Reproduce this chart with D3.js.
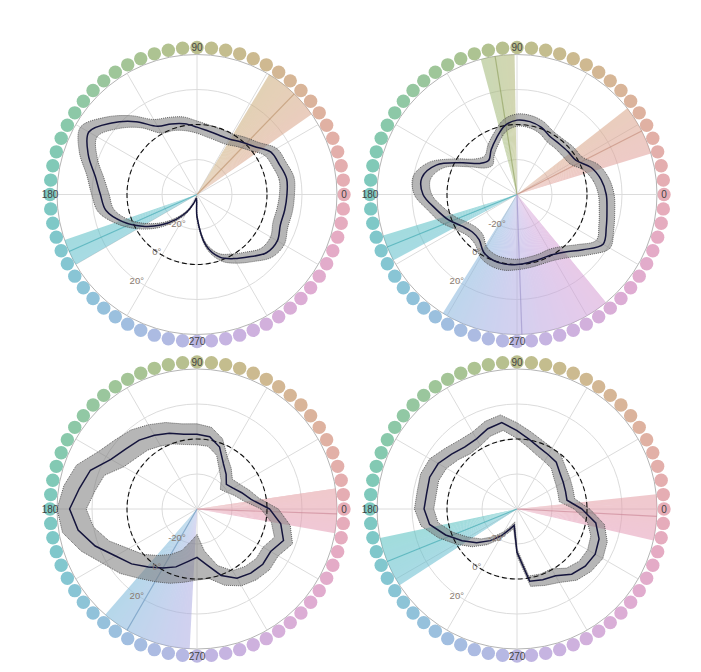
<!DOCTYPE html>
<html><head><meta charset="utf-8">
<script src="https://cdn.jsdelivr.net/npm/d3@7"></script>
<style>body{margin:0;background:#fff}svg{display:block}</style>
</head><body><svg id="c" width="701" height="672"></svg>
<script>
// ---------- data ----------
const angles = [0,10,20,30,40,50,60,70,80,90,100,110,120,130,140,150,160,170,180,190,200,210,220,230,240,250,260,270,280,290,300,310,320,330,340,350];

const meanA = [11.4,12.0,10.1,8.6,2.7,-0.8,-3.4,-3.8,-3.2,-1.5,1.0,2.9,5.0,14.3,23.6,31.4,26.1,19.0,15.2,12.8,5.3,-3.8,-12.8,-21.5,-28.6,-34.7,-37.7,-27.2,-10.5,-1.9,2.3,6.5,11.8,13.0,10.7,10.9];
const ciA   = [4.3,4.3,4,4,3.5,3.5,3.5,3.5,3.5,3.5,4,4,4.5,4.5,5,5.5,5.5,5,5,4.5,3.5,3,2.5,2,1.8,1.2,1.2,1.4,1.8,2.3,3,3.5,4,4.5,4.5,4.5];

const meanB = [11.0,8.8,5.1,-1.0,-1.9,-2.3,-1.9,0.8,2.3,2.5,0,-5.7,-10.5,-14.7,-12.4,-3.8,9.1,15.2,13.7,7.2,1.9,-3.8,-6.7,-6.3,-1.9,0,0.4,0,-0.6,-0.8,-0.2,2.9,9.1,16.8,14.3,12.2];
const ciB   = [4.5,4.5,4.5,4,4,3.5,3.5,3.5,3.5,3.5,3.5,3.5,3.5,3.5,4,4.5,4.5,5,5,4.5,4.5,4,3.5,3.5,3.5,3.5,3.5,3,3,3,3.5,4,4.5,4.5,4.5,4.5];

const meanC = [1.5,-8.6,-12.8,-16.2,-18.1,-14.1,-9.9,-2.3,1.9,2.7,3.4,6.1,8.6,11.4,13.3,16.8,24.8,28.2,32.8,29.0,21.9,13.7,8.8,3.2,-1.0,-4.8,-9.5,-12.4,-7.6,0.4,5.7,7.8,9.1,8.6,12.6,8.6];
const ciC   = [5,4.5,4.5,4.5,4.5,4.5,4.5,5,5.5,6,6,6.5,7,7.5,8,8.5,8.5,9,9.5,9,8.5,8.5,8.5,8.5,9,10,12,13,8,6,5,5,5,5,5.5,5.5];

const meanD = [-2.9,-11.0,-10.5,-9.5,-8.0,-5.1,-4.2,-2.7,0.4,4.8,10.1,8.8,6.3,6.3,8.8,12.0,13.1,12.4,13.1,10.7,3.4,-3.8,-9.9,-16.4,-22.5,-27.6,-30.5,-15.2,1.9,3.0,4.0,8.6,10.9,11.6,9.9,5.7];
const ciD   = [4.5,4.5,4.5,4.5,4.5,4.5,4.5,4.5,4.5,4.5,4.5,4.5,4.5,5,5,5.5,5.5,5.5,5.5,5,4.5,4,3.5,3,2.5,2,2,2,3,3.5,4.5,4.5,4.5,5,5,5];

// wedges: [start angle, end angle, mean angle]
const wedgesA = [[35,59,46],[199,210,204]];
const wedgesB = [[91,105,99],[17,38,27],[197,208,202],[238,309.5,272]];
const wedgesC = [[-10,8.4,-2],[229,267,240]];
const wedgesD = [[-13,6,-3],[192,213,202]];

const gridValues = [-20,0,20,40];
const tickValues = [-20,0,20];
const tickLabels = ["-20°","0°","20°"];
const axisAngles = [0,90,180,270];
const axisLabels = ["0","90","180","270"];
const nDots = 64;

// ---------- colour: polar CIELUV (like R's hcl) ----------
function hclLuv(h, c, l) {
  const hr = h*Math.PI/180, u = c*Math.cos(hr), v = c*Math.sin(hr);
  const Xn = 95.047, Yn = 100, Zn = 108.883;
  const un = 4*Xn/(Xn+15*Yn+3*Zn), vn = 9*Yn/(Xn+15*Yn+3*Zn);
  const Y = l > 8 ? Yn*Math.pow((l+16)/116, 3) : Yn*l/903.3;
  const up = u/(13*l) + un, vp = v/(13*l) + vn;
  const X = Y*9*up/(4*vp), Z = Y*(12 - 3*up - 20*vp)/(4*vp);
  const x = X/100, y = Y/100, z = Z/100;
  const lin = [3.2404542*x - 1.5371385*y - 0.4985314*z,
              -0.9692660*x + 1.8760108*y + 0.0415560*z,
               0.0556434*x - 0.2040259*y + 1.0572252*z];
  const g = lin.map(t => { t = Math.max(0, Math.min(1, t));
    return Math.round(255*(t <= 0.0031308 ? 12.92*t : 1.055*Math.pow(t, 1/2.4) - 0.055)); });
  return d3.rgb(g[0], g[1], g[2]).formatHex();
}

// ---------- drawing ----------
const panels = [
  {mean:meanA, ci:ciA, wedges:wedgesA, cx:197, cy:194.5, curve:d3.curveCatmullRomClosed.alpha(0.5)},
  {mean:meanB, ci:ciB, wedges:wedgesB, cx:517, cy:194.5, curve:d3.curveCatmullRomClosed.alpha(0.5)},
  {mean:meanC, ci:ciC, wedges:wedgesC, cx:197, cy:509, curve:d3.curveLinearClosed},
  {mean:meanD, ci:ciD, wedges:wedgesD, cx:517, cy:509, curve:d3.curveLinearClosed}
];

const R = 140, ringR = 147, dotR = 6.7;
const r = d3.scaleLinear().domain([-40,40]).range([0,R]).clamp(true);
const rad = deg => deg*Math.PI/180;
const d3a = deg => rad(90-deg);
const px = (deg, rr) => [rr*Math.cos(rad(deg)), -rr*Math.sin(rad(deg))];

const svg = d3.select('#c');

panels.forEach((p) => {
  const g = svg.append('g').attr('transform', `translate(${p.cx},${p.cy})`);

  // hue ring
  g.append('g').selectAll('circle').data(d3.range(nDots).map(k => k*360/nDots)).join('circle')
    .attr('cx', d => px(d, ringR)[0]).attr('cy', d => px(d, ringR)[1])
    .attr('r', dotR).attr('fill', d => hclLuv(d, 35, 76));

  // grid circles
  g.append('g').selectAll('circle').data(gridValues).join('circle')
    .attr('r', d => r(d)).attr('fill','none')
    .attr('stroke', d => d === 40 ? '#b5b5b5' : '#dcdcdc').attr('stroke-width', 1);
  // spokes
  g.append('g').selectAll('line').data(d3.range(0,360,30)).join('line')
    .attr('x1',0).attr('y1',0)
    .attr('x2', d => px(d,R)[0]).attr('y2', d => px(d,R)[1])
    .attr('stroke','#dcdcdc').attr('stroke-width',1);

  // wedges
  p.wedges.forEach(([s,e,m]) => {
    const wg = g.append('g').attr('opacity', 0.55);
    const step = 1;
    const slices = d3.range(s, e, step);
    const arc = d3.arc().innerRadius(0).outerRadius(R);
    wg.selectAll('path').data(slices).join('path')
      .attr('d', a => arc({startAngle: d3a(Math.min(a+step+0.4, e)), endAngle: d3a(a)}))
      .attr('fill', a => hclLuv((a+step/2+360)%360, 45, 72));
    const [x2,y2] = px(m, R);
    g.append('line').attr('x1',0).attr('y1',0).attr('x2',x2).attr('y2',y2)
      .attr('stroke', hclLuv((m+360)%360, 45, 62)).attr('stroke-width',1.2).attr('opacity',0.6);
  });

  // confidence band
  const lr = d3.lineRadial().angle(d => d3a(d[0])).radius(d => r(d[1])).curve(p.curve);
  const upper = angles.map((a,i) => [a, p.mean[i] + p.ci[i]]);
  const lower = angles.map((a,i) => [a, p.mean[i] - p.ci[i]]);
  g.append('path').attr('d', lr(upper) + lr(lower))
    .attr('fill', '#7a7a7a').attr('fill-opacity', 0.55).attr('fill-rule','evenodd');
  [upper, lower].forEach(b => g.append('path').attr('d', lr(b)).attr('fill','none')
    .attr('stroke','#444').attr('stroke-width',0.8).attr('stroke-dasharray','1,1'));

  // zero circle
  g.append('circle').attr('r', r(0)).attr('fill','none')
    .attr('stroke','#111').attr('stroke-width',1.1).attr('stroke-dasharray','5,3');

  // mean line
  g.append('path').attr('d', lr(angles.map((a,i) => [a, p.mean[i]])))
    .attr('fill','none').attr('stroke','#14143c').attr('stroke-width',1.5);

  // radial tick labels
  g.append('g').selectAll('text').data(tickValues).join('text')
    .attr('x', d => px(235, r(d))[0]).attr('y', d => px(235, r(d))[1])
    .attr('text-anchor','middle').attr('dominant-baseline','central')
    .attr('font-family','Arial, Liberation Sans, sans-serif').attr('font-size',9.5)
    .attr('fill','#8a7a70').text((d,i) => tickLabels[i]);

  // angle labels
  g.append('g').selectAll('text').data(axisAngles).join('text')
    .attr('x', d => px(d, ringR)[0]).attr('y', d => px(d, ringR)[1])
    .attr('text-anchor','middle').attr('dominant-baseline','central')
    .attr('font-family','Arial, Liberation Sans, sans-serif').attr('font-size',10)
    .attr('fill','#444').text((d,i) => axisLabels[i]);
});
</script></body></html>
